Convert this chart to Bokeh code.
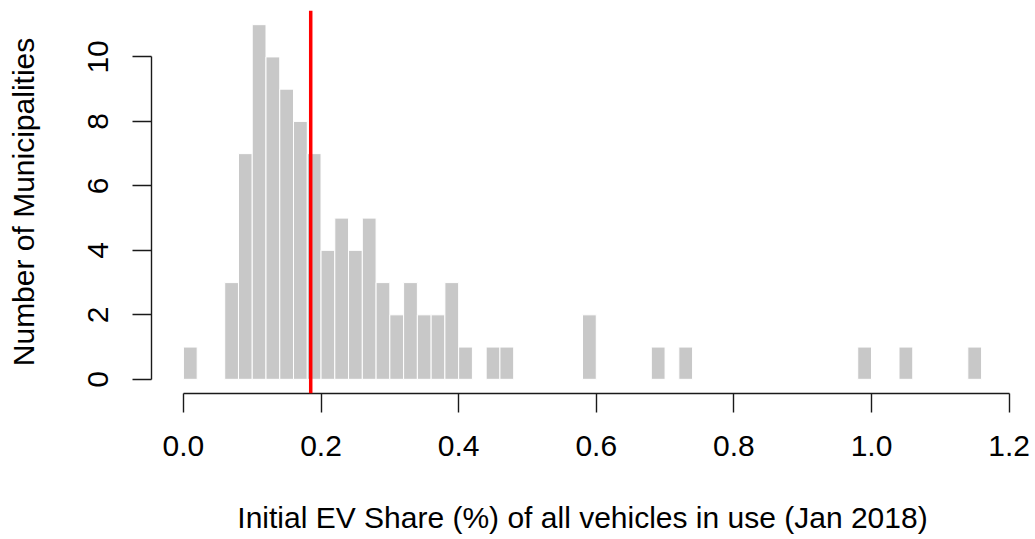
from bokeh.plotting import figure
from bokeh.models import Range1d, FixedTicker, Span
from bokeh.embed import file_html
from bokeh.resources import INLINE

# Histogram of initial EV share per municipality (bins of width 0.02 %)
bin_width = 0.02
bin_start = [0.00, 0.06, 0.08, 0.10, 0.12, 0.14, 0.16, 0.18, 0.20, 0.22,
             0.24, 0.26, 0.28, 0.30, 0.32, 0.34, 0.36, 0.38, 0.40, 0.44,
             0.46, 0.58, 0.68, 0.72, 0.98, 1.04, 1.14]
counts = [1, 3, 7, 11, 10, 9, 8, 7, 4, 5,
          4, 5, 3, 2, 3, 2, 2, 3, 1, 1,
          1, 2, 1, 1, 1, 1, 1]
mean_share = 0.185

x_ticks = [0.0, 0.2, 0.4, 0.6, 0.8, 1.0, 1.2]
x_tick_labels = ["0.0", "0.2", "0.4", "0.6", "0.8", "1.0", "1.2"]
y_ticks = [0, 2, 4, 6, 8, 10]

FONT = "Liberation Sans"

p = figure(
    frame_width=862, frame_height=383,
    min_border_left=151, min_border_right=22,
    min_border_top=10, min_border_bottom=146,
    x_range=Range1d(-0.0464, 1.2064), y_range=Range1d(-0.44, 11.44),
    output_backend="svg", toolbar_location=None,
    background_fill_color="white", border_fill_color="white",
)
p.outline_line_color = None
p.grid.visible = False

left = bin_start
right = [b + bin_width for b in bin_start]
p.quad(left=left, right=right, bottom=0, top=counts,
       fill_color="#c8c8c8", line_color="white", line_width=1)

p.add_layout(Span(location=mean_share, dimension="height",
                  line_color="#ff0000", line_width=3.5))

for ax in (p.xaxis[0], p.yaxis[0]):
    ax.axis_line_color = "#1a1a1a"
    ax.axis_line_width = 1.4
    ax.major_tick_line_color = "#1a1a1a"
    ax.major_tick_line_width = 1.4
    ax.major_tick_out = 19
    ax.major_tick_in = 0
    ax.minor_tick_line_color = None
    ax.major_label_text_font = FONT
    ax.major_label_text_font_size = "30px"
    ax.major_label_text_color = "black"
    ax.axis_label_text_font = FONT
    ax.axis_label_text_font_size = "30px"
    ax.axis_label_text_font_style = "normal"
    ax.axis_label_text_color = "black"

xa = p.xaxis[0]
xa.ticker = FixedTicker(ticks=x_ticks)
xa.major_label_overrides = dict(zip(x_ticks, x_tick_labels))
xa.bounds = (0, 1.2)
xa.major_label_standoff = 23
xa.axis_label = "Initial EV Share (%) of all vehicles in use (Jan 2018)"
xa.axis_label_standoff = 42

ya = p.yaxis[0]
ya.ticker = FixedTicker(ticks=y_ticks)
ya.bounds = (0, 10)
ya.major_label_orientation = "vertical"
ya.major_label_standoff = 24
ya.axis_label = "Number of Municipalities"
ya.axis_label_standoff = 46

open("out.html", "w").write(file_html(p, INLINE))
